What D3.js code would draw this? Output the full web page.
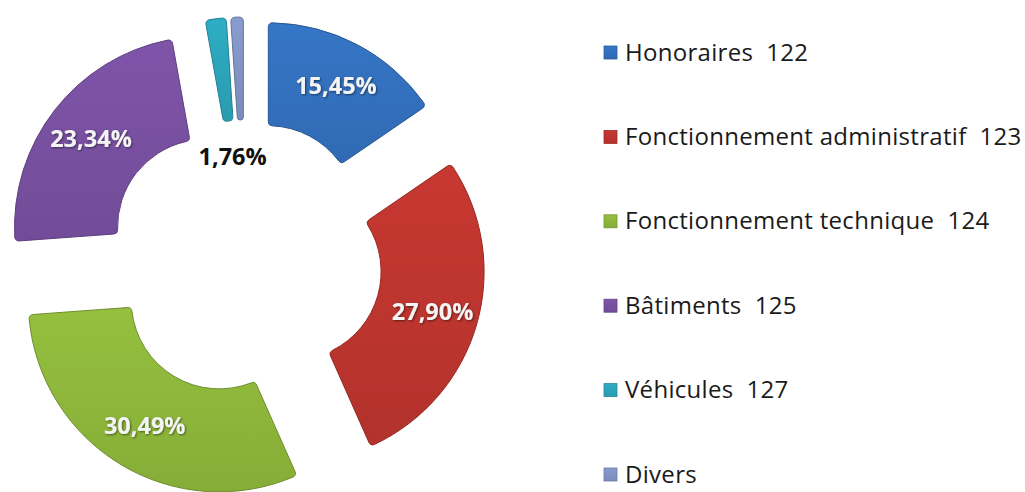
<!DOCTYPE html>
<html lang="fr">
	<head>
		<meta charset="utf-8">
		<script src="https://d3js.org/d3.v7.min.js"></script>
		<style>
			body { margin: 0; background: #ffffff; }
			text { font-family: "Open Sans", sans-serif; }
		</style>
	</head>
	<body>
		<script type="text/javascript">

			//Data
			var categories = ["Honoraires  122", "Fonctionnement administratif  123", "Fonctionnement technique  124",
							  "Bâtiments  125", "Véhicules  127", "Divers"];
			var values = [15.45, 27.90, 30.49, 23.34, 1.76, 1.06];
			var labels = ["15,45%", "27,90%", "30,49%", "23,34%", "1,76%", ""];
			var colors = ["#3370bd", "#bd352e", "#8db63b", "#7850a0", "#2ca4ba", "#8194c4"];

			//Width and height
			var w = 1025;
			var h = 492;
			var cx = 245, cy = 258;
			var outerR = 191, innerR = 88, explode = 50;

			var svg = d3.select("body")
						.append("svg")
						.attr("width", w)
						.attr("height", h);

			var defs = svg.append("defs");

			colors.forEach(function(c, i) {
				var g = defs.append("linearGradient")
							.attr("id", "grad" + i)
							.attr("x1", 0).attr("y1", 0)
							.attr("x2", 0).attr("y2", 1);
				g.append("stop").attr("offset", "0%").attr("stop-color", d3.color(c).brighter(0.15));
				g.append("stop").attr("offset", "100%").attr("stop-color", d3.color(c).darker(0.15));
			});

			var shadow = defs.append("filter").attr("id", "txtshadow");
			shadow.append("feDropShadow")
				  .attr("dx", 1).attr("dy", 1)
				  .attr("stdDeviation", 0.8)
				  .attr("flood-color", "#000")
				  .attr("flood-opacity", 0.5);

			var pie = d3.pie()
						.sort(null)
						.value(function(d) { return d; });

			var arc = d3.arc()
						.innerRadius(innerR)
						.outerRadius(outerR)
						.cornerRadius(4);

			var labelArc = d3.arc()
							 .innerRadius(145)
							 .outerRadius(145);

			var smallLabelArc = d3.arc()
								  .innerRadius(52)
								  .outerRadius(52);

			var arcs = pie(values);

			function offset(d) {
				var mid = (d.startAngle + d.endAngle) / 2;
				return [Math.sin(mid) * explode, -Math.cos(mid) * explode];
			}

			var slices = svg.append("g")
							.attr("transform", "translate(" + cx + "," + cy + ")")
							.selectAll("g")
							.data(arcs)
							.enter()
							.append("g")
							.attr("transform", function(d) {
								var o = offset(d);
								return "translate(" + o[0] + "," + o[1] + ")";
							});

			slices.append("path")
				  .attr("d", arc)
				  .style("fill", function(d, i) { return "url(#grad" + i + ")"; })
				  .style("stroke", function(d, i) { return d3.color(colors[i]).darker(0.7); })
				  .style("stroke-width", 1);

			slices.append("text")
				  .attr("transform", function(d) {
					  var p = d.value > 5 ? labelArc.centroid(d) : smallLabelArc.centroid(d);
					  return "translate(" + p + ")";
				  })
				  .attr("text-anchor", "middle")
				  .attr("dy", "0.36em")
				  .style("font-size", "23.5px")
				  .style("font-weight", "bold")
				  .style("fill", function(d) { return d.value > 5 ? "#f4f4f4" : "#111111"; })
				  .attr("filter", function(d) { return d.value > 5 ? "url(#txtshadow)" : null; })
				  .text(function(d, i) { return labels[i]; });

			//Legend
			var legendY = d3.scalePoint()
							.domain(categories)
							.range([52, 474]);

			var legend = svg.append("g")
							.selectAll("g")
							.data(categories)
							.enter()
							.append("g")
							.attr("transform", function(d) { return "translate(604," + legendY(d) + ")"; });

			legend.append("rect")
				  .attr("x", 0).attr("y", -6)
				  .attr("width", 13).attr("height", 13)
				  .style("fill", function(d, i) { return "url(#grad" + i + ")"; })
				  .style("stroke", function(d, i) { return d3.color(colors[i]).darker(0.5); })
				  .style("stroke-width", 0.8);

			legend.append("text")
				  .attr("x", 21)
				  .attr("dy", "0.36em")
				  .style("font-size", "24px")
				  .style("letter-spacing", "0.3px")
				  .style("fill", "#1a1a1a")
				  .style("white-space", "pre")
				  .text(function(d) { return d; });

		</script>
	</body>
</html>
